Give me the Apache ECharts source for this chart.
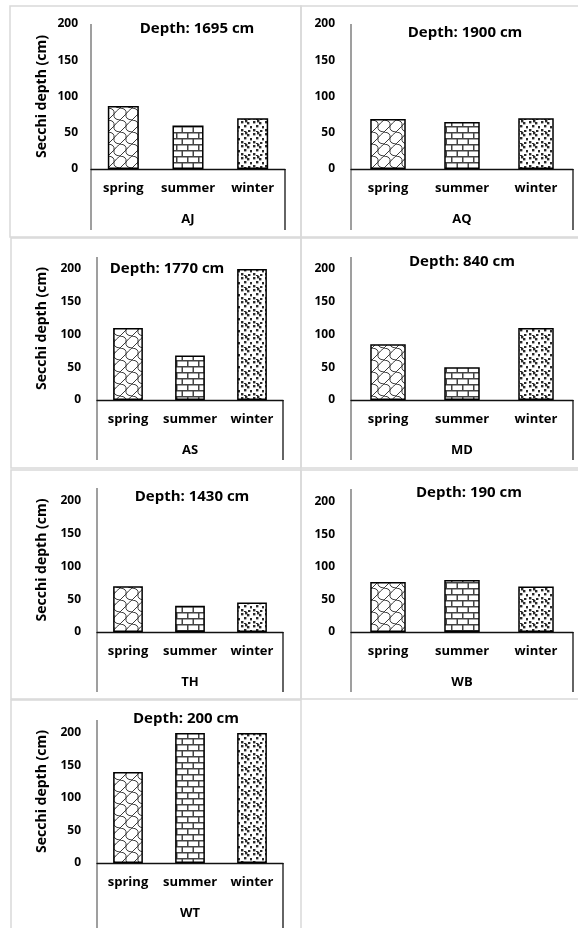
<!DOCTYPE html>
<html>
<head>
<meta charset="utf-8">
<script src="https://cdn.jsdelivr.net/npm/echarts@6/dist/echarts.min.js"></script>
<style>
  html, body { margin: 0; padding: 0; background: #fff; }
  #main { width: 578px; height: 928px; }
</style>
</head>
<body>
<div id="main"></div>
<script>
// seasons on the x axis of every panel
const categories = ['spring', 'summer', 'winter'];
const sites = ['AJ', 'AQ', 'AS', 'MD', 'TH', 'WB', 'WT'];
const depthLabels = ['Depth: 1695 cm', 'Depth: 1900 cm', 'Depth: 1770 cm', 'Depth: 840 cm',
  'Depth: 1430 cm', 'Depth: 190 cm', 'Depth: 200 cm'];
const yTicks = [0, 50, 100, 150, 200];

// Secchi depth (cm) per season
const ajValues = [87, 60, 70];
const aqValues = [69, 65, 70];
const asValues = [110, 68, 200];
const mdValues = [85, 50, 110];
const thValues = [70, 40, 45];
const wbValues = [77, 80, 70];
const wtValues = [140, 200, 200];
const allValues = [ajValues, aqValues, asValues, mdValues, thValues, wbValues, wtValues];

// panel layout (pixels)
const panels = [
  { left: 91, right: 285, top: 24, base: 169, axisTop: 24, boxBottom: 230, yName: true, tx: 197, ty: 29, lm: 13 },
  { left: 351, right: 573, top: 24, base: 169, axisTop: 24, boxBottom: 230, yName: false, tx: 465, ty: 33, lm: 16 },
  { left: 97, right: 283, top: 269, base: 400, axisTop: 257, boxBottom: 460, yName: true, tx: 167, ty: 269, lm: 16 },
  { left: 351, right: 573, top: 269, base: 400, axisTop: 257, boxBottom: 460, yName: false, tx: 462, ty: 262, lm: 16 },
  { left: 97, right: 283, top: 501, base: 632, axisTop: 488, boxBottom: 692, yName: true, tx: 192, ty: 497, lm: 16 },
  { left: 351, right: 573, top: 502, base: 632, axisTop: 489, boxBottom: 692, yName: false, tx: 469, ty: 493, lm: 16 },
  { left: 97, right: 283, top: 733, base: 863, axisTop: 720, boxBottom: 940, yName: true, tx: 186, ty: 719, lm: 16 },
];
const frames = [
  [10, 6, 291, 231], [301, 6, 280, 231],
  [11, 238, 290, 230], [301, 238, 280, 230],
  [11, 470, 290, 229], [301, 470, 280, 229],
  [11, 700, 290, 240],
];

const FONT = '"Open Sans"';

function makeCanvas(w, h) {
  const c = document.createElement('canvas');
  c.width = w;
  c.height = h;
  const ctx = c.getContext('2d');
  ctx.fillStyle = '#fff';
  ctx.fillRect(0, 0, w, h);
  return [c, ctx];
}

// wavy interlocking fill (spring)
function springPattern() {
  const s = 12;
  const [c, ctx] = makeCanvas(s, s);
  ctx.strokeStyle = '#3a3a3a';
  ctx.lineWidth = 1;
  ctx.lineJoin = 'round';
  [-s, 0, s].forEach((dx) => {
    ctx.beginPath();
    ctx.moveTo(dx, 0);
    ctx.quadraticCurveTo(dx + 7, 0.5, dx + 6, 6);
    ctx.quadraticCurveTo(dx + 5, 11.5, dx + s, s);
    ctx.stroke();
    ctx.beginPath();
    ctx.moveTo(dx + s, 0);
    ctx.quadraticCurveTo(dx + 8, 3, dx + 6, 6);
    ctx.stroke();
    ctx.beginPath();
    ctx.moveTo(dx + 6, 6);
    ctx.quadraticCurveTo(dx + 3, 9, dx, s);
    ctx.stroke();
  });
  return c;
}

// horizontal brick fill (summer)
function brickPattern() {
  const [c, ctx] = makeCanvas(22, 12);
  ctx.fillStyle = '#444';
  ctx.fillRect(0, 0, 22, 1.5);
  ctx.fillRect(0, 6, 22, 1.5);
  ctx.fillRect(0, 0, 1.5, 6);
  ctx.fillRect(11, 0, 1.5, 6);
  ctx.fillRect(5.5, 6, 1.5, 6);
  ctx.fillRect(16.5, 6, 1.5, 6);
  return c;
}

// confetti dots (winter)
function confettiPattern() {
  const [c, ctx] = makeCanvas(12, 12);
  ctx.fillStyle = '#2a2a2a';
  [[1, 1], [7, 2], [4, 5], [10, 6], [1, 9], [8, 10], [5, 0], [4, 11]].forEach(([x, y]) => {
    ctx.fillRect(x, y, 2.4, 2.4);
  });
  return c;
}

const fills = [
  { image: springPattern(), repeat: 'repeat' },
  { image: brickPattern(), repeat: 'repeat' },
  { image: confettiPattern(), repeat: 'repeat' },
];

const chart = echarts.init(document.getElementById('main'), null, { renderer: 'canvas' });

const grids = [];
const xAxes = [];
const yAxes = [];
const series = [];
const graphics = [];

frames.forEach(([x, y, w, h]) => {
  graphics.push({
    type: 'rect',
    silent: true,
    shape: { x, y, width: w, height: h },
    style: { fill: null, stroke: '#d9d9d9', lineWidth: 1.5 },
  });
});

panels.forEach((p, i) => {
  grids.push({
    left: p.left,
    top: p.top,
    width: p.right - p.left,
    height: p.base - p.top,
    outerBoundsMode: 'none',
    containLabel: false,
  });
  xAxes.push({
    type: 'category',
    gridIndex: i,
    data: categories,
    axisTick: { show: false },
    axisLine: { show: true, lineStyle: { color: '#111', width: 1.3 } },
    axisLabel: {
      interval: 0,
      margin: 13,
      color: '#000',
      fontWeight: 'bold',
      fontSize: 13,
      fontFamily: FONT,
    },
  });
  yAxes.push({
    type: 'value',
    gridIndex: i,
    min: yTicks[0],
    max: yTicks[yTicks.length - 1],
    interval: yTicks[1] - yTicks[0],
    axisLine: { show: false },
    axisTick: { show: false },
    splitLine: { show: false },
    axisLabel: {
      margin: p.lm,
      color: '#000',
      fontWeight: 'bold',
      fontSize: 12,
      fontFamily: FONT,
    },
  });
  series.push({
    type: 'bar',
    xAxisIndex: i,
    yAxisIndex: i,
    barWidth: '48%',
    silent: true,
    data: allValues[i].map((v, k) => ({ value: v, itemStyle: { color: fills[k] } })),
    itemStyle: { borderColor: '#000', borderWidth: 1.5 },
  });

  // y axis line, continued down to close the category box
  graphics.push({
    type: 'line',
    silent: true,
    shape: { x1: p.left, y1: p.axisTop, x2: p.left, y2: p.boxBottom },
    style: { stroke: '#7f7f7f', lineWidth: 1.5 },
  });
  graphics.push({
    type: 'line',
    silent: true,
    shape: { x1: p.right, y1: p.base, x2: p.right, y2: p.boxBottom },
    style: { stroke: '#111', lineWidth: 1.3 },
  });
  graphics.push({
    type: 'text',
    silent: true,
    x: (p.left + p.right) / 2,
    y: p.base + 50,
    style: {
      text: sites[i],
      align: 'center',
      verticalAlign: 'middle',
      fill: '#000',
      font: `bold 13px ${FONT}`,
    },
  });
  graphics.push({
    type: 'text',
    silent: true,
    x: p.tx,
    y: p.ty,
    style: {
      text: depthLabels[i],
      align: 'center',
      verticalAlign: 'middle',
      fill: '#000',
      font: `bold 15px ${FONT}`,
    },
  });
  if (p.yName) {
    graphics.push({
      type: 'text',
      silent: true,
      x: 42,
      y: (p.axisTop + p.base) / 2,
      rotation: Math.PI / 2,
      style: {
        text: 'Secchi depth (cm)',
        align: 'center',
        verticalAlign: 'middle',
        fill: '#000',
        font: `bold 14px ${FONT}`,
      },
    });
  }
});

chart.setOption({
  backgroundColor: '#fff',
  animation: false,
  grid: grids,
  xAxis: xAxes,
  yAxis: yAxes,
  series,
  graphic: { elements: graphics },
});
</script>
</body>
</html>
